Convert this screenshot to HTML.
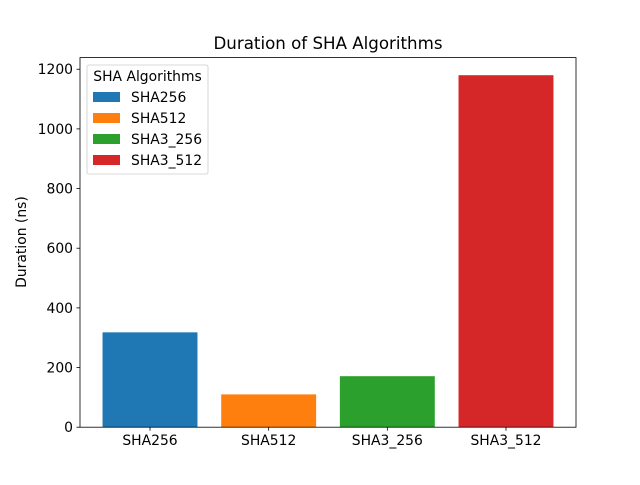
<!DOCTYPE html>
<html><head><meta charset="utf-8"><style>
body{margin:0;background:#fff;}
svg text{font-family:"DejaVu Sans","Liberation Sans",sans-serif;fill:#000;}
</style></head><body>
<svg id="chart" width="640" height="480" xmlns="http://www.w3.org/2000/svg">
<rect width="640" height="480" fill="#fff"/>
<text x="328" y="49" font-size="16.67" text-anchor="middle">Duration of SHA Algorithms</text>
<g id="bars"></g>
<g id="yticks"></g>
<g id="xticks"></g>
<rect x="80" y="57.6" width="496" height="369.6" fill="none" stroke="#000" stroke-width="0.8"/>
<text transform="translate(26,242) rotate(-90)" font-size="13.9" text-anchor="middle">Duration (ns)</text>
<g id="legend">
<rect x="87" y="65" width="121" height="109" rx="2" fill="#fff" fill-opacity="0.8" stroke="#ccc" stroke-width="0.8"/>
<text x="147.5" y="81" font-size="13.9" text-anchor="middle">SHA Algorithms</text>
</g>
</svg>
<script>
const categories=["SHA256","SHA512","SHA3_256","SHA3_512"];
const durations=[318,110,171,1180];
const colors=["#1f77b4","#ff7f0e","#2ca02c","#d62728"];
const yTicks=[0,200,400,600,800,1000,1200];
const NS="http://www.w3.org/2000/svg";
const L=80,R=576,T=57.6,B=427.2;
const yMax=Math.max(...durations)*1.05;
const n=categories.length;
const xMin=-0.4-0.05*(n-1+0.8),xMax=n-1+0.4+0.05*(n-1+0.8);
const xs=v=>L+(v-xMin)/(xMax-xMin)*(R-L);
const ys=v=>B-v/yMax*(B-T);
function mk(tag,attrs,parent){const e=document.createElementNS(NS,tag);for(const k in attrs)e.setAttribute(k,attrs[k]);parent.appendChild(e);return e;}
const gb=document.getElementById('bars'),gy=document.getElementById('yticks'),gx=document.getElementById('xticks'),gl=document.getElementById('legend');
categories.forEach((c,i)=>{
  const x0=xs(i-0.4),x1=xs(i+0.4);
  const r=mk('rect',{x:x0,y:ys(durations[i]),width:x1-x0,height:B-ys(durations[i]),fill:colors[i]},gb);
  
  
  mk('line',{x1:xs(i),x2:xs(i),y1:B,y2:B+3.5,stroke:'#000','stroke-width':0.8},gx);
  const t=mk('text',{x:xs(i),y:B+18,'font-size':13.9,'text-anchor':'middle'},gx);
  t.textContent=c;
  
  
  const ly=97+i*21;
  const p=mk('rect',{x:93,y:ly-5,width:27,height:10,fill:colors[i]},gl);
  
  
  const lt=mk('text',{x:131,y:ly+5,'font-size':13.9},gl);
  lt.textContent=c;
  
  
});
yTicks.forEach(v=>{
  const y=ys(v);
  mk('line',{x1:L-3.5,x2:L,y1:y,y2:y,stroke:'#000','stroke-width':0.8},gy);
  const t=mk('text',{x:L-7,y:y+5,'font-size':13.9,'text-anchor':'end'},gy);
  t.textContent=v;
  
  
});
</script>
</body></html>
